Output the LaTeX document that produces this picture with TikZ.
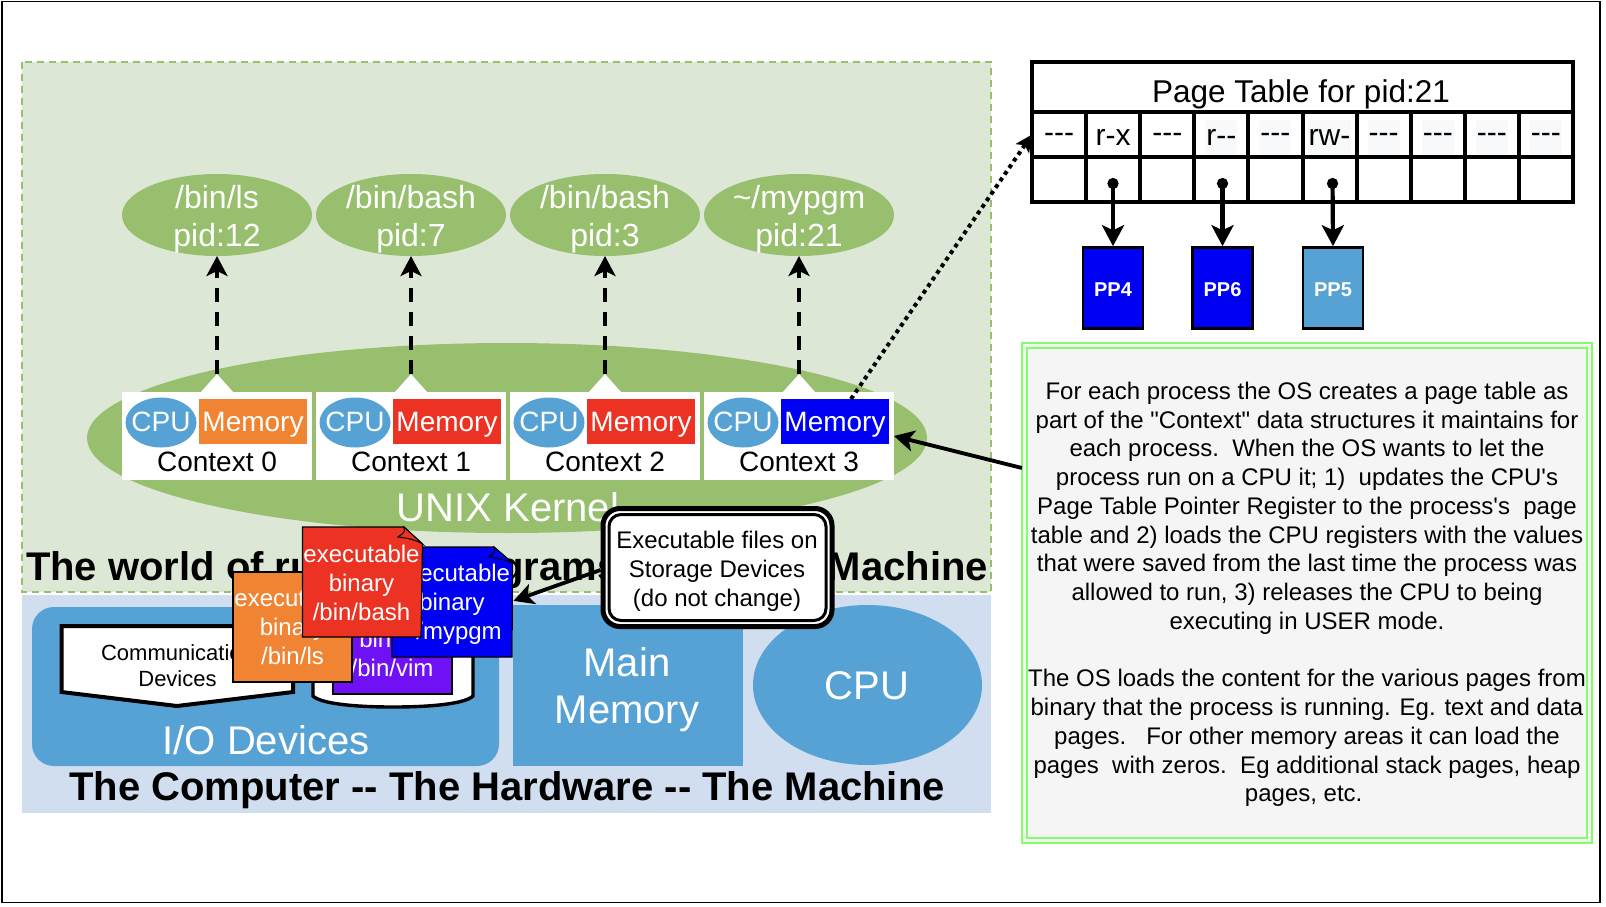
\documentclass[tikz,border=0pt]{standalone}
\usepackage{fontspec}
\setmainfont[Ligatures=TeXOff]{Liberation Sans}
\usetikzlibrary{arrows.meta,shapes.geometric,shapes.multipart}
\definecolor{gbg}{HTML}{DCE8D5}
\definecolor{gmid}{HTML}{97BF6E}
\definecolor{bbg}{HTML}{D0DEEF}
\definecolor{bmid}{HTML}{56A2D4}
\definecolor{cred}{HTML}{EB3223}
\definecolor{corg}{HTML}{F08432}
\definecolor{cblu}{HTML}{0000F5}
\definecolor{cpur}{HTML}{7010F5}
\definecolor{cgrn}{HTML}{80FF66}
\definecolor{cpale}{HTML}{F8F9FA}
\definecolor{cnote}{HTML}{F5F5F5}
\newcommand\fsz[2]{\fontsize{#1}{#2}\selectfont}
\tikzset{
  x=1pt,y=-1pt,
  txt/.style={inner sep=0pt,outer sep=0pt,align=center},
  ell/.style={ellipse,fill=#1,inner sep=0pt,outer sep=0pt},
  box/.style={rectangle,fill=#1,inner sep=0pt,outer sep=0pt,anchor=north west},
  bigtip/.style={-{Stealth[length=20pt,width=21pt,inset=5pt]}},
  arw/.style={draw=black,line width=3.8pt,bigtip},
  cellbox/.style={rectangle,draw=black,line width=4pt,fill=white,minimum width=54.1pt,inner sep=0pt,outer sep=0pt},
  pagebox/.style={rectangle,draw=black,line width=2.6pt,fill=#1,minimum width=60pt,minimum height=81pt,inner sep=0pt,outer sep=1.3pt},
  pagetxt/.style={txt,text=white,font=\fsz{20}{24}\bfseries},
  sheet/.style={draw=black,line width=1.2pt,fill=#1},
  sheettxt/.style={txt,text=white,font=\fsz{24}{28.8}}
}
\begin{document}
\begin{tikzpicture}
\useasboundingbox (0,0) rectangle (1606,906);
\fill[white] (0,0) rectangle (1606,906);
\draw[black,line width=1.4pt] (2,1.5) rectangle (1600,902.5);
% regions
\fill[gbg] (22,62) rectangle (991,592);
\draw[gmid,line width=1.8pt,dash pattern=on 7pt off 5pt] (22,62) rectangle (991,592);
\fill[bbg] (22,595) rectangle (991,813);
\node[txt,anchor=base west,font=\fsz{40}{48}\bfseries] (titleA) at (26,580) {The world of running programs};
\node[txt,anchor=base east,font=\fsz{40}{48}\bfseries] (titleB) at (988,580) {Machine};
\node[txt,anchor=base,font=\fsz{40}{48}\bfseries] (titleC) at (507,800) {The Computer -- The Hardware -- The Machine};
% kernel
\node[ell=gmid,minimum width=840pt,minimum height=190pt] (kernel) at (507,438) {};
\node[txt,anchor=base,text=white,font=\fsz{40}{47}] (unix) at (508,521) {UNIX Kernel};
% contexts and processes
\foreach \i/\xl/\mc in {0/122/corg,1/316/cred,2/510/cred,3/704/cblu}{
  \node[box=white,minimum width=190pt,minimum height=88pt] (ctx\i) at (\xl,392) {};
  \coordinate (apex\i) at (\xl+95,374);
  \fill[white] (\xl+78,393) -- (apex\i) -- (\xl+112,393) -- cycle;
  \node[ell=bmid,minimum width=71pt,minimum height=50pt] (cpu\i) at (\xl+39,422.5) {};
  \node[txt,anchor=base,text=white,font=\fsz{28}{33}] (cput\i) at (\xl+39,431.5) {CPU};
  \node[box=\mc,minimum width=108pt,minimum height=45pt] (mem\i) at (\xl+77,399) {};
  \node[txt,anchor=base,text=white,font=\fsz{28}{33}] (memt\i) at (\xl+131,431.5) {Memory};
  \node[txt,anchor=base,font=\fsz{28}{33}] (ctxt\i) at (\xl+95,471.5) {Context \i};
}
\foreach \i/\cx/\pa/\pb in {0/217/{/bin/ls}/{pid:12},1/411/{/bin/bash}/{pid:7},2/605/{/bin/bash}/{pid:3},3/799/{\char"7E/mypgm}/{pid:21}}{
  \node[ell=gmid,minimum width=190pt,minimum height=82pt] (proc\i) at (\cx,215) {};
  \node[txt,text=white,font=\fsz{32}{38.5}] (proct\i) at (\cx,219) {\pa\\\pb};
  \draw[line width=3.8pt,dash pattern=on 14pt off 10pt,bigtip] (apex\i) -- (proc\i.south);
}
% I/O
\node[box=bmid,rounded corners=22pt,minimum width=467pt,minimum height=159pt] (io) at (32,607) {};
\node[txt,anchor=base,text=white,font=\fsz{40}{47}] (iot) at (266,754) {I/O Devices};
\node[box=bmid,minimum width=230pt,minimum height=161pt] (mm) at (512.5,605) {};
\node[txt,text=white,font=\fsz{40}{47.5}] (mmt) at (627,689.5) {Main\\Memory};
\node[ell=bmid,minimum width=229pt,minimum height=160pt] (cpuhw) at (867.5,685) {};
\node[txt,anchor=base,text=white,font=\fsz{40}{48}] (cput) at (867,699) {CPU};
% comm device
\draw[black,line width=4pt,fill=white] (61.5,626) -- (293,626) -- (293,692) -- (177,706) -- (61.5,692) -- cycle;
\node[txt,font=\fsz{22}{26.5}] (comm) at (177.5,665.5) {Communication\\Devices};
% disk
\draw[black,line width=3.4pt,fill=white] (313,620) -- (313,696) .. controls (320,703) and (350,707) .. (393,707) .. controls (436,707) and (466,703) .. (473,696) -- (473,620) -- cycle;
% sheets
\draw[sheet=cpur] (333,584) rectangle (452,694);
\node[sheettxt] (vim) at (392,639) {executable\\binary\\/bin/vim};
\draw[sheet=cblu] (392,547) -- (494,547) -- (512.5,563) -- (512,657) -- (392,657) -- cycle;
\draw[black,line width=1pt,fill=cblu] (494,547) .. controls (495,552) .. (489,557) .. controls (498,558) and (506,560) .. (512.5,563) -- cycle;
\node[sheettxt] (mypgm) at (452,604) {executable\\binary\\\char"7E/mypgm};
\node[inner sep=0pt,outer sep=0pt] (mypgmedge) at (513,601) {};
\draw[sheet=corg] (233,572) rectangle (352,682);
\node[sheettxt] (ls) at (292.5,627) {executable\\binary\\/bin/ls};
\draw[sheet=cred] (302.5,527) -- (404,527) -- (422.5,544) -- (421,637) -- (302.5,637) -- cycle;
\draw[black,line width=1pt,fill=cred] (404,527) .. controls (405,532) .. (398,537) .. controls (408,538) and (416,540) .. (422.5,544) -- cycle;
\node[sheettxt] (bash) at (361.5,583) {executable\\binary\\/bin/bash};
% executable note
\node[rectangle,rounded corners=17pt,draw=black,line width=5pt,fill=white,minimum width=229pt,minimum height=118pt,inner sep=0pt,outer sep=2.5pt] (exe) at (717.5,567.5) {};
\node[rectangle,rounded corners=12pt,draw=black,line width=3pt,fill=white,minimum width=217pt,minimum height=106pt,inner sep=0pt] (exein) at (717.5,567.5) {};
\node[txt,font=\fsz{24}{28.8}] (exet) at (717,571) {Executable files on\\Storage Devices\\(do not change)};
\draw[arw] (exe.west |- 0,570) -- (mypgmedge);
% page table
\node[box=white,draw=black,line width=4pt,minimum width=541pt,minimum height=50pt,outer sep=0pt] (pttitle) at (1032,62) {};
\node[txt,font=\fsz{31.5}{38}] (ptt) at (1301,94) {Page Table for pid:21};
\foreach \n/\lab/\bg in {1/---/white,2/r-x/white,3/---/white,4/r--/cpale,5/---/cpale,6/rw-/cpale,7/---/cpale,8/---/cpale,9/---/cpale,10/---/cpale}{
  \node[cellbox,minimum height=45pt] (pc\n) at ({1032+27.05+54.1*(\n-1)},134.5) {};
  \node[rectangle,fill=\bg,inner xsep=1pt,inner ysep=0pt,minimum height=36pt,font=\fsz{30}{36}] (pl\n) at ({1032+27.05+54.1*(\n-1)},137.5) {\lab};
  \node[cellbox,minimum height=45pt] (pd\n) at ({1032+27.05+54.1*(\n-1)},179.5) {};
}
% pages
\node[pagebox=cblu] (pp4) at (1113,288) {};
\node[pagetxt] (pp4t) at (1113,290) {PP4};
\node[pagebox=cblu] (pp6) at (1222.5,288) {};
\node[pagetxt] (pp6t) at (1222.5,290) {PP6};
\node[pagebox=bmid] (pp5) at (1333,288) {};
\node[pagetxt] (pp5t) at (1333,290) {PP5};
\coordinate (d2) at (1113,178);
\coordinate (d4) at (1222.5,178);
\coordinate (d6) at (1332.5,178);
\foreach \a/\b in {d2/pp4,d4/pp6,d6/pp5}{
  \draw[line width=4.2pt,{Circle[length=11pt,width=11pt]}-{Stealth[length=21pt,width=22pt,inset=5pt]}] (\a) -- (\b.north);
}
% dotted link
\coordinate (memtop) at (851,399);
\draw[line width=4pt,dash pattern=on 4pt off 4pt,-{Stealth[length=17pt,width=16pt,inset=4pt]}] (memtop) -- (pc1.west);
% note
\node[box=cnote,draw=cgrn,line width=2.6pt,minimum width=570pt,minimum height=500pt] (note) at (1022,343) {};
\draw[cgrn,line width=2.2pt] (1027,348) rectangle (1587,838);
\node[txt,font=\fsz{24}{28.75}] (notet) at (1307,594.5) {For each process the OS creates a page table as\\
part of the "Context" data structures it maintains for\\
each process.\ \ When the OS wants to let the\\
process run on a CPU it; 1)\ \ updates the CPU's\\
Page Table Pointer Register to the process's\ \ page\\
table and 2) loads the CPU registers with the values\\
that were saved from the last time the process was\\
allowed to run, 3) releases the CPU to being\\
executing in USER mode.\\[28.75pt]
The OS loads the content for the various pages from\\
binary that the process is running. Eg. text and data\\
pages.\ \ \ For other memory areas it can load the\\
pages\ \ with zeros.\ \ Eg additional stack pages, heap\\
pages, etc.\ \mbox{}};
\coordinate (notearrow) at (1022,468);
\draw[arw] (notearrow) -- (ctx3.east |- 0,436);
\end{tikzpicture}
\end{document}
